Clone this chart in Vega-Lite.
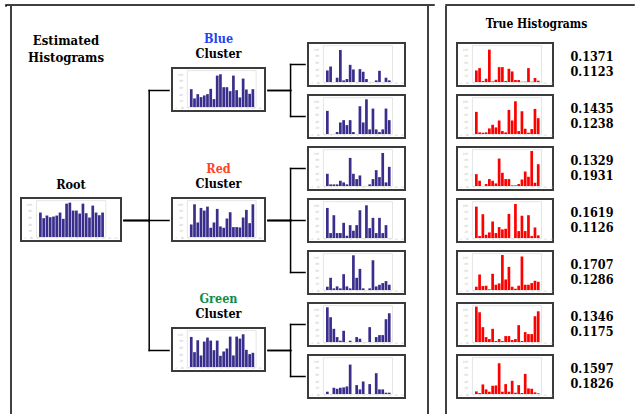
{
 "$schema": "https://vega.github.io/schema/vega-lite/v6.json",
 "padding": {"left": 4, "top": 1, "right": 0, "bottom": 0},
 "background": "#ffffff",
 "config": {
  "view": {"stroke": null},
  "font": "DejaVu Serif Condensed",
  "title": {"font": "DejaVu Serif Condensed", "fontWeight": "bold", "fontSize": 12.5, "color": "#000000", "anchor": "middle", "subtitleFont": "DejaVu Serif Condensed", "subtitleFontWeight": "bold", "subtitleFontSize": 12.5, "subtitleColor": "#000000", "subtitlePadding": 2},
  "axisX": {"offset": -4, "domain": false, "ticks": false, "grid": false, "labelFontSize": 2.5, "labelColor": "#b5b5b5", "labelPadding": 0.3, "tickCount": 10},
  "axisY": {"offset": -11, "domain": false, "ticks": false, "grid": false, "labelFontSize": 3, "labelColor": "#b5b5b5", "labelPadding": 0.5, "tickCount": 6}
 },
 "datasets": {
  "histRoot": [{"bin":1,"count":74},{"bin":2,"count":57},{"bin":3,"count":65},{"bin":4,"count":60},{"bin":5,"count":62},{"bin":6,"count":65},{"bin":7,"count":74},{"bin":8,"count":55},{"bin":9,"count":101},{"bin":10,"count":104},{"bin":11,"count":80},{"bin":12,"count":80},{"bin":13,"count":71},{"bin":14,"count":101},{"bin":15,"count":72},{"bin":16,"count":59},{"bin":17,"count":95},{"bin":18,"count":74},{"bin":19,"count":66},{"bin":20,"count":74}],
  "histBlue": [{"bin":1,"count":54},{"bin":2,"count":26},{"bin":3,"count":39},{"bin":4,"count":30},{"bin":5,"count":35},{"bin":6,"count":39},{"bin":7,"count":55},{"bin":8,"count":24},{"bin":9,"count":95},{"bin":10,"count":99},{"bin":11,"count":60},{"bin":12,"count":60},{"bin":13,"count":48},{"bin":14,"count":95},{"bin":15,"count":51},{"bin":16,"count":29},{"bin":17,"count":86},{"bin":18,"count":53},{"bin":19,"count":40},{"bin":20,"count":54}],
  "histRed": [{"bin":1,"count":38},{"bin":2,"count":99},{"bin":3,"count":44},{"bin":4,"count":88},{"bin":5,"count":80},{"bin":6,"count":92},{"bin":7,"count":28},{"bin":8,"count":44},{"bin":9,"count":85},{"bin":10,"count":32},{"bin":11,"count":28},{"bin":12,"count":56},{"bin":13,"count":75},{"bin":14,"count":30},{"bin":15,"count":30},{"bin":16,"count":29},{"bin":17,"count":59},{"bin":18,"count":82},{"bin":19,"count":42},{"bin":20,"count":99}],
  "histGreen": [{"bin":1,"count":91},{"bin":2,"count":45},{"bin":3,"count":81},{"bin":4,"count":35},{"bin":5,"count":77},{"bin":6,"count":89},{"bin":7,"count":80},{"bin":8,"count":51},{"bin":9,"count":80},{"bin":10,"count":34},{"bin":11,"count":47},{"bin":12,"count":56},{"bin":13,"count":92},{"bin":14,"count":35},{"bin":15,"count":92},{"bin":16,"count":86},{"bin":17,"count":99},{"bin":18,"count":52},{"bin":19,"count":39},{"bin":20,"count":43}],
  "histE1": [{"bin":1,"count":35},{"bin":2,"count":47},{"bin":3,"count":0},{"bin":4,"count":13},{"bin":5,"count":97},{"bin":6,"count":5},{"bin":7,"count":9},{"bin":8,"count":52},{"bin":9,"count":38},{"bin":10,"count":0},{"bin":11,"count":39},{"bin":12,"count":31},{"bin":13,"count":9},{"bin":14,"count":0},{"bin":15,"count":0},{"bin":16,"count":5},{"bin":17,"count":34},{"bin":18,"count":0},{"bin":19,"count":13},{"bin":20,"count":5}],
  "histE2": [{"bin":1,"count":70},{"bin":2,"count":0},{"bin":3,"count":0},{"bin":4,"count":6},{"bin":5,"count":35},{"bin":6,"count":42},{"bin":7,"count":27},{"bin":8,"count":42},{"bin":9,"count":6},{"bin":10,"count":0},{"bin":11,"count":84},{"bin":12,"count":35},{"bin":13,"count":105},{"bin":14,"count":14},{"bin":15,"count":77},{"bin":16,"count":14},{"bin":17,"count":6},{"bin":18,"count":14},{"bin":19,"count":77},{"bin":20,"count":42}],
  "histE3": [{"bin":1,"count":37},{"bin":2,"count":5},{"bin":3,"count":5},{"bin":4,"count":5},{"bin":5,"count":16},{"bin":6,"count":11},{"bin":7,"count":5},{"bin":8,"count":85},{"bin":9,"count":37},{"bin":10,"count":21},{"bin":11,"count":32},{"bin":12,"count":0},{"bin":13,"count":0},{"bin":14,"count":5},{"bin":15,"count":21},{"bin":16,"count":48},{"bin":17,"count":27},{"bin":18,"count":100},{"bin":19,"count":11},{"bin":20,"count":58}],
  "histE4": [{"bin":1,"count":91},{"bin":2,"count":15},{"bin":3,"count":69},{"bin":4,"count":15},{"bin":5,"count":15},{"bin":6,"count":46},{"bin":7,"count":7},{"bin":8,"count":39},{"bin":9,"count":22},{"bin":10,"count":39},{"bin":11,"count":84},{"bin":12,"count":0},{"bin":13,"count":99},{"bin":14,"count":30},{"bin":15,"count":61},{"bin":16,"count":15},{"bin":17,"count":61},{"bin":18,"count":15},{"bin":19,"count":39},{"bin":20,"count":0}],
  "histE5": [{"bin":1,"count":10},{"bin":2,"count":37},{"bin":3,"count":5},{"bin":4,"count":11},{"bin":5,"count":5},{"bin":6,"count":48},{"bin":7,"count":11},{"bin":8,"count":5},{"bin":9,"count":105},{"bin":10,"count":37},{"bin":11,"count":64},{"bin":12,"count":5},{"bin":13,"count":0},{"bin":14,"count":5},{"bin":15,"count":90},{"bin":16,"count":11},{"bin":17,"count":16},{"bin":18,"count":21},{"bin":19,"count":27},{"bin":20,"count":16}],
  "histE6": [{"bin":1,"count":105},{"bin":2,"count":75},{"bin":3,"count":40},{"bin":4,"count":15},{"bin":5,"count":4},{"bin":6,"count":34},{"bin":7,"count":0},{"bin":8,"count":4},{"bin":9,"count":0},{"bin":10,"count":15},{"bin":11,"count":10},{"bin":12,"count":0},{"bin":13,"count":0},{"bin":14,"count":45},{"bin":15,"count":0},{"bin":16,"count":15},{"bin":17,"count":21},{"bin":18,"count":21},{"bin":19,"count":69},{"bin":20,"count":87}],
  "histE7": [{"bin":1,"count":7},{"bin":2,"count":0},{"bin":3,"count":19},{"bin":4,"count":16},{"bin":5,"count":19},{"bin":6,"count":20},{"bin":7,"count":23},{"bin":8,"count":89},{"bin":9,"count":0},{"bin":10,"count":27},{"bin":11,"count":14},{"bin":12,"count":38},{"bin":13,"count":0},{"bin":14,"count":30},{"bin":15,"count":0},{"bin":16,"count":63},{"bin":17,"count":14},{"bin":18,"count":14},{"bin":19,"count":4},{"bin":20,"count":4}],
  "histT1": [{"bin":1,"count":35},{"bin":2,"count":42},{"bin":3,"count":3},{"bin":4,"count":10},{"bin":5,"count":98},{"bin":6,"count":2},{"bin":7,"count":7},{"bin":8,"count":45},{"bin":9,"count":45},{"bin":10,"count":3},{"bin":11,"count":40},{"bin":12,"count":32},{"bin":13,"count":6},{"bin":14,"count":6},{"bin":15,"count":1},{"bin":16,"count":1},{"bin":17,"count":42},{"bin":18,"count":1},{"bin":19,"count":12},{"bin":20,"count":4}],
  "histT2": [{"bin":1,"count":67},{"bin":2,"count":5},{"bin":3,"count":4},{"bin":4,"count":5},{"bin":5,"count":17},{"bin":6,"count":28},{"bin":7,"count":20},{"bin":8,"count":41},{"bin":9,"count":9},{"bin":10,"count":5},{"bin":11,"count":73},{"bin":12,"count":41},{"bin":13,"count":99},{"bin":14,"count":9},{"bin":15,"count":69},{"bin":16,"count":16},{"bin":17,"count":4},{"bin":18,"count":15},{"bin":19,"count":76},{"bin":20,"count":48}],
  "histT3": [{"bin":1,"count":36},{"bin":2,"count":16},{"bin":3,"count":0},{"bin":4,"count":6},{"bin":5,"count":21},{"bin":6,"count":16},{"bin":7,"count":8},{"bin":8,"count":83},{"bin":9,"count":40},{"bin":10,"count":21},{"bin":11,"count":21},{"bin":12,"count":2},{"bin":13,"count":2},{"bin":14,"count":6},{"bin":15,"count":20},{"bin":16,"count":44},{"bin":17,"count":28},{"bin":18,"count":106},{"bin":19,"count":10},{"bin":20,"count":66}],
  "histT4": [{"bin":1,"count":95},{"bin":2,"count":6},{"bin":3,"count":72},{"bin":4,"count":10},{"bin":5,"count":17},{"bin":6,"count":50},{"bin":7,"count":15},{"bin":8,"count":33},{"bin":9,"count":26},{"bin":10,"count":28},{"bin":11,"count":73},{"bin":12,"count":0},{"bin":13,"count":103},{"bin":14,"count":21},{"bin":15,"count":67},{"bin":16,"count":21},{"bin":17,"count":69},{"bin":18,"count":6},{"bin":19,"count":32},{"bin":20,"count":8}],
  "histT5": [{"bin":1,"count":10},{"bin":2,"count":47},{"bin":3,"count":12},{"bin":4,"count":13},{"bin":5,"count":2},{"bin":6,"count":49},{"bin":7,"count":16},{"bin":8,"count":20},{"bin":9,"count":106},{"bin":10,"count":32},{"bin":11,"count":70},{"bin":12,"count":10},{"bin":13,"count":4},{"bin":14,"count":13},{"bin":15,"count":101},{"bin":16,"count":16},{"bin":17,"count":16},{"bin":18,"count":21},{"bin":19,"count":28},{"bin":20,"count":25}],
  "histT6": [{"bin":1,"count":107},{"bin":2,"count":90},{"bin":3,"count":45},{"bin":4,"count":15},{"bin":5,"count":9},{"bin":6,"count":40},{"bin":7,"count":3},{"bin":8,"count":9},{"bin":9,"count":3},{"bin":10,"count":18},{"bin":11,"count":18},{"bin":12,"count":6},{"bin":13,"count":9},{"bin":14,"count":51},{"bin":15,"count":3},{"bin":16,"count":30},{"bin":17,"count":24},{"bin":18,"count":24},{"bin":19,"count":78},{"bin":20,"count":93}],
  "histT7": [{"bin":1,"count":8},{"bin":2,"count":3},{"bin":3,"count":29},{"bin":4,"count":14},{"bin":5,"count":7},{"bin":6,"count":25},{"bin":7,"count":26},{"bin":8,"count":93},{"bin":9,"count":7},{"bin":10,"count":30},{"bin":11,"count":7},{"bin":12,"count":40},{"bin":13,"count":4},{"bin":14,"count":27},{"bin":15,"count":3},{"bin":16,"count":61},{"bin":17,"count":17},{"bin":18,"count":16},{"bin":19,"count":5},{"bin":20,"count":2}],
  "linksRoot": [{"parent":4,"child":1.5},{"parent":4,"child":4},{"parent":4,"child":6.5}],
  "linksClusters": [{"parent":1.5,"child":1},{"parent":1.5,"child":2},{"parent":4,"child":3},{"parent":4,"child":4},{"parent":4,"child":5},{"parent":6.5,"child":6},{"parent":6.5,"child":7}],
  "scores": [{"slot":1,"first":0.1371,"second":0.1123},{"slot":2,"first":0.1435,"second":0.1238},{"slot":3,"first":0.1329,"second":0.1931},{"slot":4,"first":0.1619,"second":0.1126},{"slot":5,"first":0.1707,"second":0.1286},{"slot":6,"first":0.1346,"second":0.1175},{"slot":7,"first":0.1597,"second":0.1826}],
  "frame": [{"edge": 0}]
 },
 "spacing": 0,
 "bounds": "flush",
 "vconcat": [
  {"width": 628, "height": 1, "data": {"values": [{}]}, "mark": {"type": "point", "opacity": 0},
   "view": {"stroke": "#000000", "strokeWidth": 1.5, "strokeCap": "square", "strokeDash": [428, 12, 188, 629, 3]}},
  {
   "spacing": 0,
   "hconcat": [
    {"width": 14, "height": 408, "data": {"name": "frame"}, "mark": {"type": "bar", "width": 1.5, "color": "#000000"},
     "encoding": {"x": {"datum": 0, "type": "quantitative", "scale": {"domain": [0, 1], "nice": false}, "axis": null}, "y": {"datum": 0, "type": "quantitative", "scale": {"domain": [0, 1], "nice": false}, "axis": null}, "y2": {"datum": 1}}},
    {
     "spacing": 0, "bounds": "flush",
     "vconcat": [
      {"width": 100, "height": 192, "data": {"values": [{}]}, "mark": {"type": "point", "opacity": 0},
       "title": {"text": ["Estimated", "Histograms"], "fontSize": 13, "lineHeight": 17, "offset": -59, "dx": -5}},
      {"width": 100, "height": 43, "title": {"text": "Root", "offset": 7},
       "view": {"stroke": "#3b3b3b", "strokeWidth": 2, "fill": "#ffffff"},
       "layer": [
        {"data": {"values": [{}]}, "mark": {"type": "rect", "fill": "#ffffff", "stroke": "#d4d4d4", "strokeWidth": 0.6},
         "encoding": {"x": {"datum": -0.2, "type": "quantitative", "title": null, "scale": {"domain": [-3.4, 24.1], "nice": false, "zero": false}}, "x2": {"datum": 21}, "y": {"datum": -1, "type": "quantitative", "title": null, "scale": {"domain": [-12, 118], "nice": false, "zero": false}}, "y2": {"datum": 110}}},
        {"data": {"name": "histRoot"}, "mark": {"type": "bar", "orient": "vertical", "color": "#3a2e8c", "width": 2.7},
         "encoding": {"x": {"field": "bin", "type": "quantitative", "title": null}, "y": {"field": "count", "type": "quantitative", "title": null}}}
       ]}
     ]
    },
    {"width": 45, "height": 408, "data": {"name": "linksRoot"},
     "layer": [
      {"mark": {"type": "rule", "color": "#000000", "strokeWidth": 1.5, "strokeCap": "square"},
       "encoding": {"x": {"datum": 0, "type": "quantitative", "scale": {"domain": [0, 1], "nice": false, "zero": false}, "axis": null}, "x2": {"datum": 0.56}, "y": {"field": "parent", "type": "quantitative", "scale": {"domain": [-0.125, 7.7212], "reverse": true, "nice": false, "zero": false}, "axis": null}}},
      {"mark": {"type": "rule", "color": "#000000", "strokeWidth": 1.5, "strokeCap": "square"},
       "encoding": {"x": {"datum": 0.56, "type": "quantitative", "axis": null}, "y": {"field": "parent", "type": "quantitative", "axis": null}, "y2": {"field": "child"}}},
      {"mark": {"type": "rule", "color": "#000000", "strokeWidth": 1.5, "strokeCap": "square"},
       "encoding": {"x": {"datum": 0.56, "type": "quantitative", "axis": null}, "x2": {"datum": 1}, "y": {"field": "child", "type": "quantitative", "axis": null}}}
     ]},
    {
     "spacing": 0, "bounds": "flush",
     "vconcat": [
      {"width": 93, "height": 62, "data": {"values": [{}]}, "mark": {"type": "point", "opacity": 0}},
      {"width": 93, "height": 43, "title": {"text": "Blue", "subtitle": "Cluster", "color": "#1f45f0", "offset": 8},
       "view": {"stroke": "#3b3b3b", "strokeWidth": 2, "fill": "#ffffff"},
       "layer": [
        {"data": {"values": [{}]}, "mark": {"type": "rect", "fill": "#ffffff", "stroke": "#d4d4d4", "strokeWidth": 0.6},
         "encoding": {"x": {"datum": -0.2, "type": "quantitative", "title": null, "scale": {"domain": [-3.4, 22.2], "nice": false, "zero": false}}, "x2": {"datum": 21}, "y": {"datum": -1, "type": "quantitative", "title": null, "scale": {"domain": [-12, 118], "nice": false, "zero": false}}, "y2": {"datum": 110}}},
        {"data": {"name": "histBlue"}, "mark": {"type": "bar", "orient": "vertical", "color": "#3a2e8c", "width": 2.7},
         "encoding": {"x": {"field": "bin", "type": "quantitative", "title": null}, "y": {"field": "count", "type": "quantitative", "title": null}}}
       ]},
      {"width": 93, "height": 87, "data": {"values": [{}]}, "mark": {"type": "point", "opacity": 0}},
      {"width": 93, "height": 43, "title": {"text": "Red", "subtitle": "Cluster", "color": "#ff4422", "offset": 8},
       "view": {"stroke": "#3b3b3b", "strokeWidth": 2, "fill": "#ffffff"},
       "layer": [
        {"data": {"values": [{}]}, "mark": {"type": "rect", "fill": "#ffffff", "stroke": "#d4d4d4", "strokeWidth": 0.6},
         "encoding": {"x": {"datum": -0.2, "type": "quantitative", "title": null, "scale": {"domain": [-3.4, 22.2], "nice": false, "zero": false}}, "x2": {"datum": 21}, "y": {"datum": -1, "type": "quantitative", "title": null, "scale": {"domain": [-12, 118], "nice": false, "zero": false}}, "y2": {"datum": 110}}},
        {"data": {"name": "histRed"}, "mark": {"type": "bar", "orient": "vertical", "color": "#3a2e8c", "width": 2.7},
         "encoding": {"x": {"field": "bin", "type": "quantitative", "title": null}, "y": {"field": "count", "type": "quantitative", "title": null}}}
       ]},
      {"width": 93, "height": 87, "data": {"values": [{}]}, "mark": {"type": "point", "opacity": 0}},
      {"width": 93, "height": 43, "title": {"text": "Green", "subtitle": "Cluster", "color": "#0e8c48", "offset": 8},
       "view": {"stroke": "#3b3b3b", "strokeWidth": 2, "fill": "#ffffff"},
       "layer": [
        {"data": {"values": [{}]}, "mark": {"type": "rect", "fill": "#ffffff", "stroke": "#d4d4d4", "strokeWidth": 0.6},
         "encoding": {"x": {"datum": -0.2, "type": "quantitative", "title": null, "scale": {"domain": [-3.4, 22.2], "nice": false, "zero": false}}, "x2": {"datum": 21}, "y": {"datum": -1, "type": "quantitative", "title": null, "scale": {"domain": [-12, 118], "nice": false, "zero": false}}, "y2": {"datum": 110}}},
        {"data": {"name": "histGreen"}, "mark": {"type": "bar", "orient": "vertical", "color": "#3a2e8c", "width": 2.7},
         "encoding": {"x": {"field": "bin", "type": "quantitative", "title": null}, "y": {"field": "count", "type": "quantitative", "title": null}}}
       ]}
     ]
    },
    {"width": 37, "height": 408, "data": {"name": "linksClusters"},
     "layer": [
      {"mark": {"type": "rule", "color": "#000000", "strokeWidth": 1.5, "strokeCap": "square"},
       "encoding": {"x": {"datum": 0, "type": "quantitative", "scale": {"domain": [0, 1], "nice": false, "zero": false}, "axis": null}, "x2": {"datum": 0.61}, "y": {"field": "parent", "type": "quantitative", "scale": {"domain": [-0.125, 7.7212], "reverse": true, "nice": false, "zero": false}, "axis": null}}},
      {"mark": {"type": "rule", "color": "#000000", "strokeWidth": 1.5, "strokeCap": "square"},
       "encoding": {"x": {"datum": 0.61, "type": "quantitative", "axis": null}, "y": {"field": "parent", "type": "quantitative", "axis": null}, "y2": {"field": "child"}}},
      {"mark": {"type": "rule", "color": "#000000", "strokeWidth": 1.5, "strokeCap": "square"},
       "encoding": {"x": {"datum": 0.61, "type": "quantitative", "axis": null}, "x2": {"datum": 1}, "y": {"field": "child", "type": "quantitative", "axis": null}}}
     ]},
    {
     "spacing": 9, "bounds": "flush",
     "vconcat": [
      {"width": 97, "height": 28, "data": {"values": [{}]}, "mark": {"type": "point", "opacity": 0}},
      {"width": 97, "height": 43, "view": {"stroke": "#3b3b3b", "strokeWidth": 2, "fill": "#ffffff"}, "layer": [
        {"data": {"values": [{}]}, "mark": {"type": "rect", "fill": "#ffffff", "stroke": "#d4d4d4", "strokeWidth": 0.6}, "encoding": {"x": {"datum": -0.2, "type": "quantitative", "title": null, "scale": {"domain": [-3.4, 23.3], "nice": false, "zero": false}}, "x2": {"datum": 21}, "y": {"datum": -1, "type": "quantitative", "title": null, "scale": {"domain": [-12, 118], "nice": false, "zero": false}}, "y2": {"datum": 110}}},
        {"data": {"name": "histE1"}, "mark": {"type": "bar", "orient": "vertical", "color": "#3a2e8c", "width": 2.7}, "encoding": {"x": {"field": "bin", "type": "quantitative", "title": null}, "y": {"field": "count", "type": "quantitative", "title": null}}}]},
      {"width": 97, "height": 43, "view": {"stroke": "#3b3b3b", "strokeWidth": 2, "fill": "#ffffff"}, "layer": [
        {"data": {"values": [{}]}, "mark": {"type": "rect", "fill": "#ffffff", "stroke": "#d4d4d4", "strokeWidth": 0.6}, "encoding": {"x": {"datum": -0.2, "type": "quantitative", "title": null, "scale": {"domain": [-3.4, 23.3], "nice": false, "zero": false}}, "x2": {"datum": 21}, "y": {"datum": -1, "type": "quantitative", "title": null, "scale": {"domain": [-12, 118], "nice": false, "zero": false}}, "y2": {"datum": 110}}},
        {"data": {"name": "histE2"}, "mark": {"type": "bar", "orient": "vertical", "color": "#3a2e8c", "width": 2.7}, "encoding": {"x": {"field": "bin", "type": "quantitative", "title": null}, "y": {"field": "count", "type": "quantitative", "title": null}}}]},
      {"width": 97, "height": 43, "view": {"stroke": "#3b3b3b", "strokeWidth": 2, "fill": "#ffffff"}, "layer": [
        {"data": {"values": [{}]}, "mark": {"type": "rect", "fill": "#ffffff", "stroke": "#d4d4d4", "strokeWidth": 0.6}, "encoding": {"x": {"datum": -0.2, "type": "quantitative", "title": null, "scale": {"domain": [-3.4, 23.3], "nice": false, "zero": false}}, "x2": {"datum": 21}, "y": {"datum": -1, "type": "quantitative", "title": null, "scale": {"domain": [-12, 118], "nice": false, "zero": false}}, "y2": {"datum": 110}}},
        {"data": {"name": "histE3"}, "mark": {"type": "bar", "orient": "vertical", "color": "#3a2e8c", "width": 2.7}, "encoding": {"x": {"field": "bin", "type": "quantitative", "title": null}, "y": {"field": "count", "type": "quantitative", "title": null}}}]},
      {"width": 97, "height": 43, "view": {"stroke": "#3b3b3b", "strokeWidth": 2, "fill": "#ffffff"}, "layer": [
        {"data": {"values": [{}]}, "mark": {"type": "rect", "fill": "#ffffff", "stroke": "#d4d4d4", "strokeWidth": 0.6}, "encoding": {"x": {"datum": -0.2, "type": "quantitative", "title": null, "scale": {"domain": [-3.4, 23.3], "nice": false, "zero": false}}, "x2": {"datum": 21}, "y": {"datum": -1, "type": "quantitative", "title": null, "scale": {"domain": [-12, 118], "nice": false, "zero": false}}, "y2": {"datum": 110}}},
        {"data": {"name": "histE4"}, "mark": {"type": "bar", "orient": "vertical", "color": "#3a2e8c", "width": 2.7}, "encoding": {"x": {"field": "bin", "type": "quantitative", "title": null}, "y": {"field": "count", "type": "quantitative", "title": null}}}]},
      {"width": 97, "height": 43, "view": {"stroke": "#3b3b3b", "strokeWidth": 2, "fill": "#ffffff"}, "layer": [
        {"data": {"values": [{}]}, "mark": {"type": "rect", "fill": "#ffffff", "stroke": "#d4d4d4", "strokeWidth": 0.6}, "encoding": {"x": {"datum": -0.2, "type": "quantitative", "title": null, "scale": {"domain": [-3.4, 23.3], "nice": false, "zero": false}}, "x2": {"datum": 21}, "y": {"datum": -1, "type": "quantitative", "title": null, "scale": {"domain": [-12, 118], "nice": false, "zero": false}}, "y2": {"datum": 110}}},
        {"data": {"name": "histE5"}, "mark": {"type": "bar", "orient": "vertical", "color": "#3a2e8c", "width": 2.7}, "encoding": {"x": {"field": "bin", "type": "quantitative", "title": null}, "y": {"field": "count", "type": "quantitative", "title": null}}}]},
      {"width": 97, "height": 43, "view": {"stroke": "#3b3b3b", "strokeWidth": 2, "fill": "#ffffff"}, "layer": [
        {"data": {"values": [{}]}, "mark": {"type": "rect", "fill": "#ffffff", "stroke": "#d4d4d4", "strokeWidth": 0.6}, "encoding": {"x": {"datum": -0.2, "type": "quantitative", "title": null, "scale": {"domain": [-3.4, 23.3], "nice": false, "zero": false}}, "x2": {"datum": 21}, "y": {"datum": -1, "type": "quantitative", "title": null, "scale": {"domain": [-12, 118], "nice": false, "zero": false}}, "y2": {"datum": 110}}},
        {"data": {"name": "histE6"}, "mark": {"type": "bar", "orient": "vertical", "color": "#3a2e8c", "width": 2.7}, "encoding": {"x": {"field": "bin", "type": "quantitative", "title": null}, "y": {"field": "count", "type": "quantitative", "title": null}}}]},
      {"width": 97, "height": 43, "view": {"stroke": "#3b3b3b", "strokeWidth": 2, "fill": "#ffffff"}, "layer": [
        {"data": {"values": [{}]}, "mark": {"type": "rect", "fill": "#ffffff", "stroke": "#d4d4d4", "strokeWidth": 0.6}, "encoding": {"x": {"datum": -0.2, "type": "quantitative", "title": null, "scale": {"domain": [-3.4, 23.3], "nice": false, "zero": false}}, "x2": {"datum": 21}, "y": {"datum": -1, "type": "quantitative", "title": null, "scale": {"domain": [-12, 118], "nice": false, "zero": false}}, "y2": {"datum": 110}}},
        {"data": {"name": "histE7"}, "mark": {"type": "bar", "orient": "vertical", "color": "#3a2e8c", "width": 2.7}, "encoding": {"x": {"field": "bin", "type": "quantitative", "title": null}, "y": {"field": "count", "type": "quantitative", "title": null}}}]}
     ]
    },
    {"width": 27, "height": 408, "data": {"name": "frame"}, "mark": {"type": "bar", "width": 1.5, "color": "#000000"},
     "encoding": {"x": {"datum": 1, "type": "quantitative", "scale": {"domain": [0, 1], "nice": false}, "axis": null}, "y": {"datum": 0, "type": "quantitative", "scale": {"domain": [0, 1], "nice": false}, "axis": null}, "y2": {"datum": 1}}},
    {"width": 8, "height": 10, "data": {"values": [{}]}, "mark": {"type": "point", "opacity": 0}},
    {
     "title": {"text": "True Histograms", "fontSize": 12, "offset": -25, "anchor": "middle"},
     "spacing": 0,
     "hconcat": [
      {"width": 15, "height": 408, "data": {"name": "frame"}, "mark": {"type": "bar", "width": 1.5, "color": "#000000"},
       "encoding": {"x": {"datum": 0, "type": "quantitative", "scale": {"domain": [0, 1], "nice": false}, "axis": null}, "y": {"datum": 0, "type": "quantitative", "scale": {"domain": [0, 1], "nice": false}, "axis": null}, "y2": {"datum": 1}}},
      {
       "spacing": 9, "bounds": "flush",
       "vconcat": [
        {"width": 96, "height": 28, "data": {"values": [{}]}, "mark": {"type": "point", "opacity": 0}},
        {"width": 96, "height": 43, "view": {"stroke": "#3b3b3b", "strokeWidth": 2, "fill": "#ffffff"}, "layer": [
          {"data": {"values": [{}]}, "mark": {"type": "rect", "fill": "#ffffff", "stroke": "#d4d4d4", "strokeWidth": 0.6}, "encoding": {"x": {"datum": -0.2, "type": "quantitative", "title": null, "scale": {"domain": [-3.4, 23.0], "nice": false, "zero": false}}, "x2": {"datum": 21}, "y": {"datum": -1, "type": "quantitative", "title": null, "scale": {"domain": [-12, 118], "nice": false, "zero": false}}, "y2": {"datum": 110}}},
          {"data": {"name": "histT1"}, "mark": {"type": "bar", "orient": "vertical", "color": "#ff0000", "width": 2.7}, "encoding": {"x": {"field": "bin", "type": "quantitative", "title": null}, "y": {"field": "count", "type": "quantitative", "title": null}}}]},
        {"width": 96, "height": 43, "view": {"stroke": "#3b3b3b", "strokeWidth": 2, "fill": "#ffffff"}, "layer": [
          {"data": {"values": [{}]}, "mark": {"type": "rect", "fill": "#ffffff", "stroke": "#d4d4d4", "strokeWidth": 0.6}, "encoding": {"x": {"datum": -0.2, "type": "quantitative", "title": null, "scale": {"domain": [-3.4, 23.0], "nice": false, "zero": false}}, "x2": {"datum": 21}, "y": {"datum": -1, "type": "quantitative", "title": null, "scale": {"domain": [-12, 118], "nice": false, "zero": false}}, "y2": {"datum": 110}}},
          {"data": {"name": "histT2"}, "mark": {"type": "bar", "orient": "vertical", "color": "#ff0000", "width": 2.7}, "encoding": {"x": {"field": "bin", "type": "quantitative", "title": null}, "y": {"field": "count", "type": "quantitative", "title": null}}}]},
        {"width": 96, "height": 43, "view": {"stroke": "#3b3b3b", "strokeWidth": 2, "fill": "#ffffff"}, "layer": [
          {"data": {"values": [{}]}, "mark": {"type": "rect", "fill": "#ffffff", "stroke": "#d4d4d4", "strokeWidth": 0.6}, "encoding": {"x": {"datum": -0.2, "type": "quantitative", "title": null, "scale": {"domain": [-3.4, 23.0], "nice": false, "zero": false}}, "x2": {"datum": 21}, "y": {"datum": -1, "type": "quantitative", "title": null, "scale": {"domain": [-12, 118], "nice": false, "zero": false}}, "y2": {"datum": 110}}},
          {"data": {"name": "histT3"}, "mark": {"type": "bar", "orient": "vertical", "color": "#ff0000", "width": 2.7}, "encoding": {"x": {"field": "bin", "type": "quantitative", "title": null}, "y": {"field": "count", "type": "quantitative", "title": null}}}]},
        {"width": 96, "height": 43, "view": {"stroke": "#3b3b3b", "strokeWidth": 2, "fill": "#ffffff"}, "layer": [
          {"data": {"values": [{}]}, "mark": {"type": "rect", "fill": "#ffffff", "stroke": "#d4d4d4", "strokeWidth": 0.6}, "encoding": {"x": {"datum": -0.2, "type": "quantitative", "title": null, "scale": {"domain": [-3.4, 23.0], "nice": false, "zero": false}}, "x2": {"datum": 21}, "y": {"datum": -1, "type": "quantitative", "title": null, "scale": {"domain": [-12, 118], "nice": false, "zero": false}}, "y2": {"datum": 110}}},
          {"data": {"name": "histT4"}, "mark": {"type": "bar", "orient": "vertical", "color": "#ff0000", "width": 2.7}, "encoding": {"x": {"field": "bin", "type": "quantitative", "title": null}, "y": {"field": "count", "type": "quantitative", "title": null}}}]},
        {"width": 96, "height": 43, "view": {"stroke": "#3b3b3b", "strokeWidth": 2, "fill": "#ffffff"}, "layer": [
          {"data": {"values": [{}]}, "mark": {"type": "rect", "fill": "#ffffff", "stroke": "#d4d4d4", "strokeWidth": 0.6}, "encoding": {"x": {"datum": -0.2, "type": "quantitative", "title": null, "scale": {"domain": [-3.4, 23.0], "nice": false, "zero": false}}, "x2": {"datum": 21}, "y": {"datum": -1, "type": "quantitative", "title": null, "scale": {"domain": [-12, 118], "nice": false, "zero": false}}, "y2": {"datum": 110}}},
          {"data": {"name": "histT5"}, "mark": {"type": "bar", "orient": "vertical", "color": "#ff0000", "width": 2.7}, "encoding": {"x": {"field": "bin", "type": "quantitative", "title": null}, "y": {"field": "count", "type": "quantitative", "title": null}}}]},
        {"width": 96, "height": 43, "view": {"stroke": "#3b3b3b", "strokeWidth": 2, "fill": "#ffffff"}, "layer": [
          {"data": {"values": [{}]}, "mark": {"type": "rect", "fill": "#ffffff", "stroke": "#d4d4d4", "strokeWidth": 0.6}, "encoding": {"x": {"datum": -0.2, "type": "quantitative", "title": null, "scale": {"domain": [-3.4, 23.0], "nice": false, "zero": false}}, "x2": {"datum": 21}, "y": {"datum": -1, "type": "quantitative", "title": null, "scale": {"domain": [-12, 118], "nice": false, "zero": false}}, "y2": {"datum": 110}}},
          {"data": {"name": "histT6"}, "mark": {"type": "bar", "orient": "vertical", "color": "#ff0000", "width": 2.7}, "encoding": {"x": {"field": "bin", "type": "quantitative", "title": null}, "y": {"field": "count", "type": "quantitative", "title": null}}}]},
        {"width": 96, "height": 43, "view": {"stroke": "#3b3b3b", "strokeWidth": 2, "fill": "#ffffff"}, "layer": [
          {"data": {"values": [{}]}, "mark": {"type": "rect", "fill": "#ffffff", "stroke": "#d4d4d4", "strokeWidth": 0.6}, "encoding": {"x": {"datum": -0.2, "type": "quantitative", "title": null, "scale": {"domain": [-3.4, 23.0], "nice": false, "zero": false}}, "x2": {"datum": 21}, "y": {"datum": -1, "type": "quantitative", "title": null, "scale": {"domain": [-12, 118], "nice": false, "zero": false}}, "y2": {"datum": 110}}},
          {"data": {"name": "histT7"}, "mark": {"type": "bar", "orient": "vertical", "color": "#ff0000", "width": 2.7}, "encoding": {"x": {"field": "bin", "type": "quantitative", "title": null}, "y": {"field": "count", "type": "quantitative", "title": null}}}]}
       ]
      },
      {"width": 78, "height": 408, "data": {"name": "scores"},
       "layer": [
        {"mark": {"type": "text", "font": "DejaVu Serif Condensed", "fontWeight": "bold", "fontSize": 12.5, "dy": -7, "dx": -1, "color": "#000000"},
         "encoding": {"y": {"field": "slot", "type": "quantitative", "scale": {"domain": [-0.125, 7.7212], "reverse": true, "nice": false, "zero": false}, "axis": null}, "text": {"field": "first", "type": "quantitative", "format": ".4f"}}},
        {"mark": {"type": "text", "font": "DejaVu Serif Condensed", "fontWeight": "bold", "fontSize": 12.5, "dy": 8, "dx": -1, "color": "#000000"},
         "encoding": {"y": {"field": "slot", "type": "quantitative", "axis": null}, "text": {"field": "second", "type": "quantitative", "format": ".4f"}}}
       ]}
     ]
    }
   ]
  }
 ]
}
